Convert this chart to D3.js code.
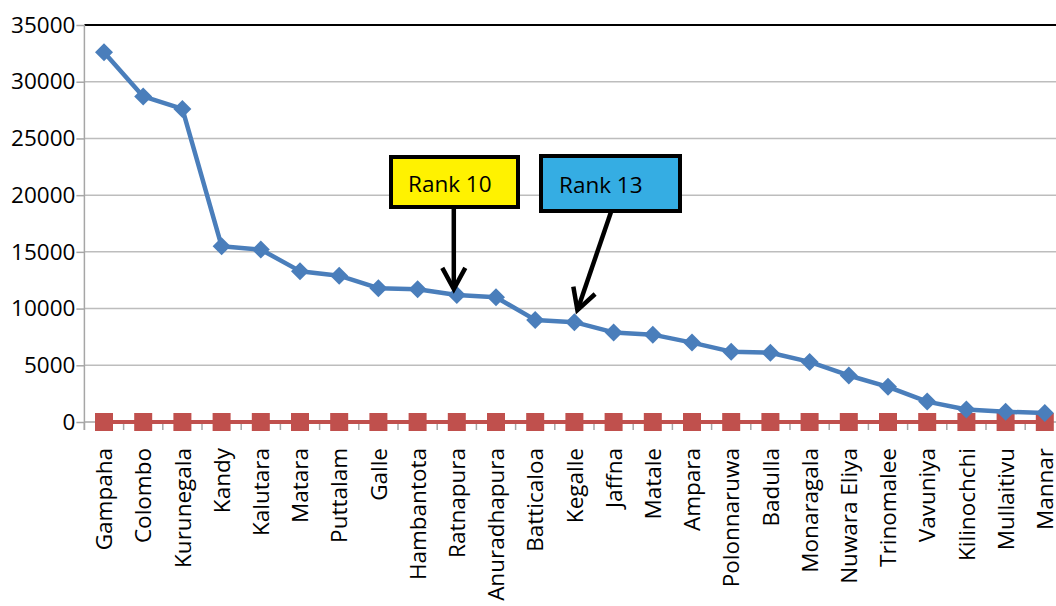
<!DOCTYPE html>
<html>
<head>
<meta charset="utf-8">
<script src="https://cdn.jsdelivr.net/npm/d3@7"></script>
<style>
  html, body { margin: 0; padding: 0; background: #fff; }
  svg text { font-family: "Open Sans", "Liberation Sans", sans-serif; }
</style>
</head>
<body>
<svg id="chart" width="1056" height="606"></svg>
<script>
// Districts, ordered by value
const districts = ["Gampaha", "Colombo", "Kurunegala", "Kandy", "Kalutara", "Matara", "Puttalam",
  "Galle", "Hambantota", "Ratnapura", "Anuradhapura", "Batticaloa", "Kegalle", "Jaffna", "Matale",
  "Ampara", "Polonnaruwa", "Badulla", "Monaragala", "Nuwara Eliya", "Trinomalee", "Vavuniya",
  "Kilinochchi", "Mullaitivu", "Mannar"];
const mainSeries = [32600, 28700, 27600, 15500, 15200, 13300, 12900, 11800, 11700, 11200, 11000,
  9000, 8800, 7900, 7700, 7000, 6200, 6100, 5300, 4100, 3100, 1800, 1100, 900, 800];
const baseSeries = districts.map(() => 0);
const yTicks = [0, 5000, 10000, 15000, 20000, 25000, 30000, 35000];
const callouts = [
  { label: "Rank 10", district: "Ratnapura", fill: "#FFF200" },
  { label: "Rank 13", district: "Kegalle", fill: "#35ADE3" }
];

const svg = d3.select("#chart");
const plotLeft = 84.4, step = 39.2, plotTop = 25, plotBottom = 422;
const fontSize = 22.5;

const x = d3.scaleBand().domain(districts).range([plotLeft, plotLeft + step * districts.length]);
const cx = d => x(d) + x.bandwidth() / 2;
const y = d3.scaleLinear().domain([0, 35000]).range([plotBottom, plotTop]);

// Horizontal gridlines
svg.append("g").selectAll("line").data(yTicks.filter(t => t > 0)).join("line")
  .attr("x1", plotLeft).attr("x2", 1056)
  .attr("y1", d => y(d)).attr("y2", d => y(d))
  .attr("stroke", d => d === 35000 ? "#000" : "#bdbdbd")
  .attr("stroke-width", d => d === 35000 ? 2 : 1.5);

// Y axis
const yAxis = svg.append("g").attr("transform", `translate(${plotLeft},0)`)
  .call(d3.axisLeft(y).tickValues(yTicks).tickSize(8).tickPadding(1).tickFormat(d3.format("d")));
yAxis.select(".domain").attr("stroke", "#a6a6a6").attr("stroke-width", 1.5)
  .attr("d", `M0,${plotTop}V${plotBottom + 8}`);
yAxis.selectAll(".tick line").attr("stroke", "#a6a6a6").attr("stroke-width", 1.5);
yAxis.selectAll(".tick text").attr("font-size", fontSize).attr("fill", "#000")
  .attr("font-family", "'Open Sans', sans-serif");

// X axis baseline, ticks between categories
const bounds = d3.range(districts.length + 1).map(i => plotLeft + i * step);
svg.append("line").attr("x1", plotLeft).attr("x2", 1056).attr("y1", plotBottom).attr("y2", plotBottom)
  .attr("stroke", "#a6a6a6").attr("stroke-width", 1.5);
svg.append("g").selectAll("line").data(bounds).join("line")
  .attr("x1", d => d).attr("x2", d => d).attr("y1", plotBottom).attr("y2", plotBottom + 8)
  .attr("stroke", "#a6a6a6").attr("stroke-width", 1.5);

// Category labels, rotated
svg.append("g").selectAll("text").data(districts).join("text")
  .attr("transform", d => `translate(${cx(d)},${plotBottom + 26}) rotate(-90)`)
  .attr("text-anchor", "end").attr("dy", "0.36em")
  .attr("font-size", fontSize).attr("fill", "#000")
  .text(d => d);

// Zero series (red squares)
const lineGen = d3.line().x(d => cx(d[0])).y(d => y(d[1]));
const basePts = districts.map((d, i) => [d, baseSeries[i]]);
svg.append("path").datum(basePts).attr("d", lineGen)
  .attr("fill", "none").attr("stroke", "#C0504D").attr("stroke-width", 4);
svg.append("g").selectAll("rect").data(basePts).join("rect")
  .attr("x", d => cx(d[0]) - 9).attr("y", d => y(d[1]) - 9)
  .attr("width", 18).attr("height", 18).attr("fill", "#C0504D");

// Main series (blue diamonds)
const mainPts = districts.map((d, i) => [d, mainSeries[i]]);
svg.append("path").datum(mainPts).attr("d", lineGen)
  .attr("fill", "none").attr("stroke", "#4A7EBB").attr("stroke-width", 4.5)
  .attr("stroke-linejoin", "round");
svg.append("g").selectAll("path").data(mainPts).join("path")
  .attr("transform", d => `translate(${cx(d[0])},${y(d[1])})`)
  .attr("d", "M0,-9L9,0L0,9L-9,0Z").attr("fill", "#4A7EBB");

// Callouts with arrows
const boxes = [
  { x0: 391, y0: 157, w: 127, h: 50, tx: 0, ty: 208, dx: -3, tipDy: -6, textX: 17 },
  { x0: 541, y0: 156, w: 139, h: 55, tx: 70, ty: 212, dx: 3, tipDy: -12, textX: 18 }
];
callouts.forEach((c, i) => {
  const b = boxes[i];
  const g = svg.append("g");
  g.append("rect").attr("x", b.x0).attr("y", b.y0).attr("width", b.w).attr("height", b.h)
    .attr("fill", c.fill).attr("stroke", "#000").attr("stroke-width", 4);
  g.append("text").attr("x", b.x0 + b.textX).attr("y", b.y0 + b.h / 2 + 2).attr("dy", "0.35em")
    .attr("font-size", fontSize).attr("fill", "#000").text(c.label);
  const tipX = cx(c.district) + b.dx;
  const tipY = y(mainSeries[districts.indexOf(c.district)]) + b.tipDy;
  const sx = i === 0 ? tipX : b.x0 + b.tx;
  const sy = b.ty;
  g.append("line").attr("x1", sx).attr("y1", sy).attr("x2", tipX).attr("y2", tipY)
    .attr("stroke", "#000").attr("stroke-width", 4.5);
  const ang = Math.atan2(tipY - sy, tipX - sx);
  const len = 24, spread = 0.5;
  const p1 = [tipX - len * Math.cos(ang - spread), tipY - len * Math.sin(ang - spread)];
  const p2 = [tipX - len * Math.cos(ang + spread), tipY - len * Math.sin(ang + spread)];
  g.append("path").attr("d", `M${p1[0]},${p1[1]}L${tipX},${tipY}L${p2[0]},${p2[1]}`)
    .attr("fill", "none").attr("stroke", "#000").attr("stroke-width", 4.5)
    .attr("stroke-linejoin", "miter");
});
</script>
</body>
</html>
